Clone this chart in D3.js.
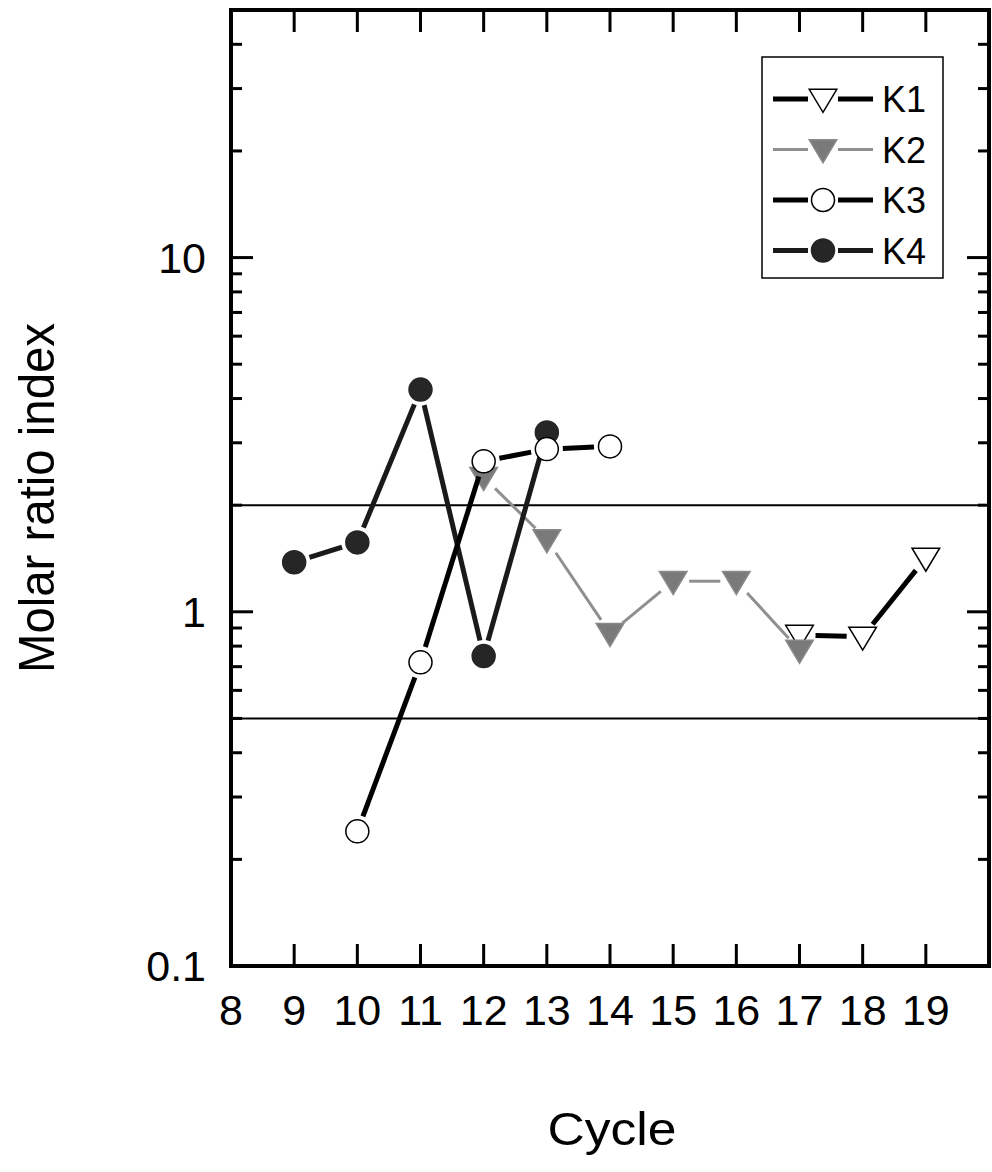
<!DOCTYPE html>
<html>
<head>
<meta charset="utf-8">
<script src="https://cdn.jsdelivr.net/npm/d3@7"></script>
<style>
  html, body { margin: 0; padding: 0; background: #fff; }
  svg { display: block; font-family: "Liberation Sans", Arial, sans-serif; }
</style>
</head>
<body>
<svg id="chart" width="992" height="1172"></svg>
<script>
// ---- data ----
const seriesNames = ["K1", "K2", "K3", "K4"];
const k1Cycles = [17, 18, 19];
const k1Values = [0.86, 0.85, 1.42];
const k2Cycles = [12, 13, 14, 15, 16, 17];
const k2Values = [2.4, 1.6, 0.87, 1.22, 1.22, 0.78];
const k3Cycles = [10, 11, 12, 13, 14];
const k3Values = [0.24, 0.72, 2.66, 2.88, 2.93];
const k4Cycles = [9, 10, 11, 12, 13];
const k4Values = [1.38, 1.57, 4.24, 0.75, 3.21];
const xTicks = [8, 9, 10, 11, 12, 13, 14, 15, 16, 17, 18, 19];
const yMajorTicks = [0.1, 1, 10];
const yTickLabels = ["0.1", "1", "10"];
const refLines = [0.5, 2];

// ---- layout ----
const svg = d3.select("#chart");
const x = d3.scaleLinear().domain([8, 20]).range([231, 989]);
const y = d3.scaleLog().domain([0.1, 50]).range([966, 10]);
const X0 = x.range()[0], X1 = x.range()[1], Y0 = y.range()[0], Y1 = y.range()[1];

const styles = {
  K1: { marker: "tri", fill: "#fff", stroke: "#000", line: "#000", lw: 5 },
  K2: { marker: "tri", fill: "#7a7a7a", stroke: "#8a8a8a", line: "#8f8f8f", lw: 3 },
  K3: { marker: "circ", fill: "#fff", stroke: "#000", line: "#000", lw: 5 },
  K4: { marker: "circ", fill: "#262626", stroke: "#262626", line: "#1a1a1a", lw: 5 }
};
const seriesData = {
  K1: k1Cycles.map((c, i) => ({ c, v: k1Values[i] })),
  K2: k2Cycles.map((c, i) => ({ c, v: k2Values[i] })),
  K3: k3Cycles.map((c, i) => ({ c, v: k3Values[i] })),
  K4: k4Cycles.map((c, i) => ({ c, v: k4Values[i] }))
};

// reference lines
svg.selectAll("line.ref").data(refLines).enter().append("line")
  .attr("x1", X0).attr("x2", X1)
  .attr("y1", d => y(d)).attr("y2", d => y(d))
  .attr("stroke", "#000").attr("stroke-width", 2);

// marker drawing
function drawMarker(g, kind, cx, cy, st, size) {
  if (kind === "circ") {
    g.append("circle").attr("cx", cx).attr("cy", cy).attr("r", size)
      .attr("fill", st.fill).attr("stroke", st.stroke).attr("stroke-width", 1.5);
  } else {
    const w = size * 1.2, h = size * 2;
    g.append("path")
      .attr("d", `M${cx - w},${cy - h * 0.42} L${cx + w},${cy - h * 0.42} L${cx},${cy + h * 0.58} Z`)
      .attr("fill", st.fill).attr("stroke", st.stroke).attr("stroke-width", 1.5)
      .attr("stroke-linejoin", "miter");
  }
}

const gap = 16;
const order = ["K1", "K2", "K4", "K3"];
order.forEach(name => {
  const st = styles[name];
  const pts = seriesData[name].map(d => [x(d.c), y(d.v)]);
  const g = svg.append("g");
  for (let i = 0; i < pts.length - 1; i++) {
    const [ax, ay] = pts[i], [bx, by] = pts[i + 1];
    const dx = bx - ax, dy = by - ay, L = Math.hypot(dx, dy);
    if (L <= 2 * gap) continue;
    const ux = dx / L, uy = dy / L;
    g.append("line")
      .attr("x1", ax + ux * gap).attr("y1", ay + uy * gap)
      .attr("x2", bx - ux * gap).attr("y2", by - uy * gap)
      .attr("stroke", st.line).attr("stroke-width", st.lw);
  }
  pts.forEach(([px, py]) => drawMarker(g, st.marker, px, py, st, st.marker === "circ" ? 11.5 : 11.5));
});

// ---- axes frame ----
const ax = svg.append("g").attr("stroke", "#000").attr("fill", "none");
ax.append("rect").attr("x", X0).attr("y", Y1).attr("width", X1 - X0).attr("height", Y0 - Y1)
  .attr("stroke-width", 4);

// x ticks (bottom and top, inward)
const xt = xTicks.filter(d => d > 8);
ax.selectAll("line.xb").data(xt).enter().append("line")
  .attr("x1", d => x(d)).attr("x2", d => x(d)).attr("y1", Y0).attr("y2", Y0 - 22).attr("stroke-width", 3);
ax.selectAll("line.xt").data(xt).enter().append("line")
  .attr("x1", d => x(d)).attr("x2", d => x(d)).attr("y1", Y1).attr("y2", Y1 + 22).attr("stroke-width", 3);

// y ticks (left and right, inward)
const yAll = y.ticks().filter(d => d > 0.1 && d < 50);
const isMajor = d => yMajorTicks.some(m => Math.abs(m - d) < 1e-9);
[[X0, 1], [X1, -1]].forEach(([xx, dir]) => {
  ax.selectAll(null).data(yAll).enter().append("line")
    .attr("x1", xx).attr("x2", d => xx + dir * (isMajor(d) ? 22 : 11))
    .attr("y1", d => y(d)).attr("y2", d => y(d)).attr("stroke-width", 3);
});

// tick labels
svg.selectAll("text.xl").data(xTicks).enter().append("text")
  .attr("x", d => x(d)).attr("y", 1025).attr("text-anchor", "middle")
  .attr("font-size", 43).attr("fill", "#000").text(d => d);
svg.selectAll("text.yl").data(yMajorTicks).enter().append("text")
  .attr("x", 206).attr("y", d => y(d) + 15).attr("text-anchor", "end")
  .attr("font-size", 43).attr("fill", "#000").text((d, i) => yTickLabels[i]);

// axis titles
svg.append("text").attr("x", 612).attr("y", 1145).attr("text-anchor", "middle")
  .attr("font-size", 46).attr("textLength", 129).attr("lengthAdjust", "spacingAndGlyphs")
  .text("Cycle");
svg.append("text").attr("transform", "translate(54,498) rotate(-90)").attr("text-anchor", "middle")
  .attr("font-size", 50).attr("textLength", 350).attr("lengthAdjust", "spacingAndGlyphs")
  .text("Molar ratio index");

// legend
const lg = svg.append("g");
lg.append("rect").attr("x", 762).attr("y", 57).attr("width", 181).attr("height", 221)
  .attr("fill", "#fff").attr("stroke", "#000").attr("stroke-width", 1.5);
seriesNames.forEach((name, i) => {
  const st = styles[name];
  const cy = 99 + i * 50.5;
  lg.append("line").attr("x1", 773).attr("x2", 808).attr("y1", cy).attr("y2", cy)
    .attr("stroke", st.line).attr("stroke-width", st.lw);
  lg.append("line").attr("x1", 838).attr("x2", 873).attr("y1", cy).attr("y2", cy)
    .attr("stroke", st.line).attr("stroke-width", st.lw);
  drawMarker(lg, st.marker, 823, cy, st, 11.5);
  lg.append("text").attr("x", 882).attr("y", cy + 13).attr("font-size", 36).attr("fill", "#000").text(name);
});
</script>
</body>
</html>
